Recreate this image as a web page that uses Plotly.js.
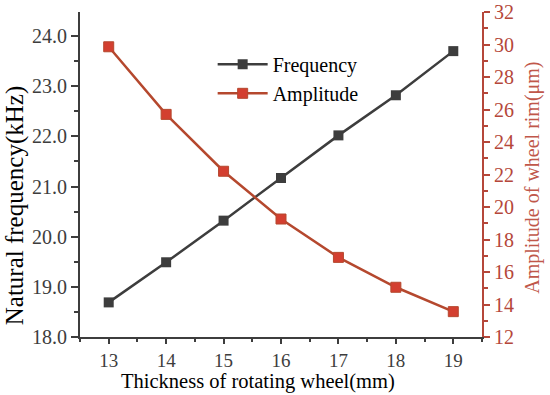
<!DOCTYPE html>
<html>
<head>
<meta charset="utf-8">
<script src="https://cdn.plot.ly/plotly-3.0.1.min.js"></script>
<style>html,body{margin:0;padding:0;background:#fff;}#chart{width:550px;height:395px;}</style>
</head>
<body>
<div id="chart"></div>
<script>
const thickness = [13, 14, 15, 16, 17, 18, 19];
const frequency = [18.69, 19.49, 20.32, 21.17, 22.02, 22.82, 23.70];
const amplitude = [29.86, 25.70, 22.20, 19.26, 16.90, 15.06, 13.56];

const FONT = 'Liberation Serif, Times New Roman, serif';
const GRAY = '#3d3d3d';
const RED = '#b5473a';

const traces = [
  {
    x: thickness, y: frequency, name: 'Frequency', type: 'scatter', mode: 'lines+markers',
    line: {color: GRAY, width: 2.5},
    marker: {symbol: 'square', size: 10, color: GRAY},
    xaxis: 'x', yaxis: 'y'
  },
  {
    x: thickness, y: amplitude, name: 'Amplitude', type: 'scatter', mode: 'lines+markers',
    line: {color: '#b5482e', width: 2.5},
    marker: {symbol: 'square', size: 10, color: '#d33f30', line: {color: '#b5482e', width: 1}},
    xaxis: 'x', yaxis: 'y2'
  }
];

const layout = {
  width: 550, height: 395,
  margin: {l: 80, r: 68, t: 12, b: 58},
  paper_bgcolor: '#fff', plot_bgcolor: '#fff',
  font: {family: FONT, size: 20, color: GRAY},
  showlegend: true,
  legend: {x: 0.33, y: 0.899, xanchor: 'left', yanchor: 'top', bgcolor: 'rgba(0,0,0,0)',
           font: {family: FONT, size: 20, color: '#000'}, itemwidth: 50, tracegroupgap: 0},
  xaxis: {
    range: [12.5, 19.5], dtick: 1, tick0: 13, showgrid: false, zeroline: false,
    showline: true, linecolor: GRAY, linewidth: 2,
    ticks: 'outside', ticklen: 5, tickwidth: 2, tickcolor: GRAY,
    minor: {dtick: 0.5, ticks: 'outside', ticklen: 3, tickwidth: 2, tickcolor: GRAY},
    tickfont: {family: FONT, size: 19, color: GRAY}
  },
  xaxis2: {
    range: [12.5, 19.5], dtick: 1, tick0: 13, overlaying: 'x', side: 'top', anchor: 'y',
    showgrid: false, zeroline: false, showticklabels: false,
    showline: true, linecolor: RED, linewidth: 2,
    ticks: 'inside', ticklen: 4, tickwidth: 2, tickcolor: RED,
    minor: {dtick: 0.5, ticks: 'inside', ticklen: 3, tickwidth: 2, tickcolor: RED}
  },
  yaxis: {
    range: [18, 24.48], dtick: 1, tick0: 18, tickformat: '.1f', showgrid: false, zeroline: false,
    showline: true, linecolor: GRAY, linewidth: 2,
    ticks: 'outside', ticklen: 7, tickwidth: 2, tickcolor: GRAY,
    minor: {dtick: 0.5, ticks: 'outside', ticklen: 4, tickwidth: 2, tickcolor: GRAY},
    tickfont: {family: FONT, size: 20, color: GRAY}
  },
  yaxis2: {
    range: [12, 32], dtick: 2, tick0: 12, overlaying: 'y', side: 'right', anchor: 'x',
    showgrid: false, zeroline: false,
    showline: true, linecolor: RED, linewidth: 2,
    ticks: 'outside', ticklen: 6, tickwidth: 2, tickcolor: RED,
    minor: {dtick: 1, ticks: 'outside', ticklen: 4, tickwidth: 2, tickcolor: RED},
    tickfont: {family: FONT, size: 20, color: RED}
  },
  annotations: [
    {text: 'Thickness of rotating wheel(mm)', xref: 'paper', yref: 'paper', x: 0.442, y: -0.095,
     xanchor: 'center', yanchor: 'top', showarrow: false, font: {family: FONT, size: 20.5, color: '#000'}},
    {text: 'Natural frequency(kHz)', xref: 'paper', yref: 'paper', x: -0.162, y: 0.405,
     xanchor: 'center', yanchor: 'middle', textangle: -90, showarrow: false,
     font: {family: FONT, size: 25, color: '#000'}},
    {text: 'Amplitude of wheel rim(μm)', xref: 'paper', yref: 'paper', x: 1.127, y: 0.49,
     xanchor: 'center', yanchor: 'middle', textangle: -90, showarrow: false,
     font: {family: FONT, size: 20, color: '#c0574a'}}
  ]
};

Plotly.newPlot('chart', traces, layout, {displayModeBar: false, staticPlot: true});
</script>
</body>
</html>
